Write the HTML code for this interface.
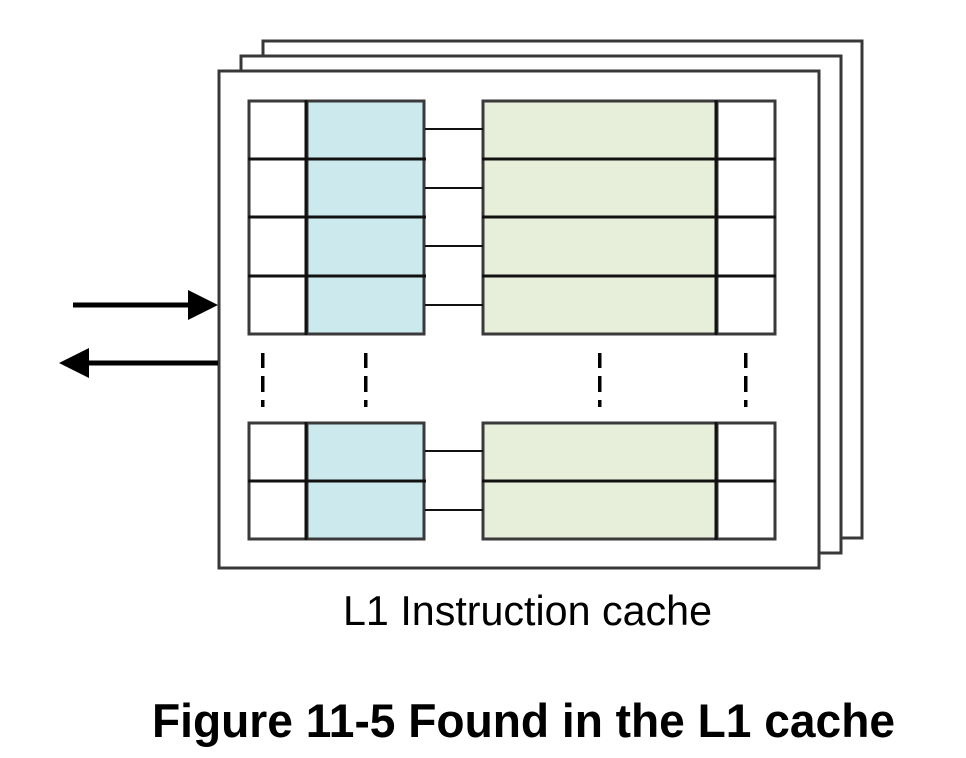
<!DOCTYPE html>
<html><head><meta charset="utf-8"><style>
html,body{margin:0;padding:0;background:#fff;}
svg{display:block;}
</style></head><body>
<svg width="966" height="758" viewBox="0 0 966 758" xmlns="http://www.w3.org/2000/svg">
<g fill="#fff" stroke="#383838" stroke-width="3">
<rect x="263" y="41" width="599" height="497"/>
<rect x="241" y="56" width="600" height="497"/>
<rect x="219" y="71" width="600" height="497"/>
</g>
<g stroke="#3a3a3a" stroke-width="3">
<rect x="249" y="101" width="57" height="233" fill="#fff"/>
<rect x="307" y="101" width="117" height="233" fill="#cce9ee"/>
<rect x="483" y="101" width="233" height="233" fill="#e7efdb"/>
<rect x="717" y="101" width="58" height="233" fill="#fff"/>
<rect x="249" y="423" width="57" height="116" fill="#fff"/>
<rect x="307" y="423" width="117" height="116" fill="#cce9ee"/>
<rect x="483" y="423" width="233" height="116" fill="#e7efdb"/>
<rect x="717" y="423" width="58" height="116" fill="#fff"/>
</g>
<g stroke="#111" stroke-width="3">
<line x1="248" y1="159" x2="426" y2="159"/><line x1="482" y1="159" x2="776" y2="159"/>
<line x1="248" y1="217" x2="426" y2="217"/><line x1="482" y1="217" x2="776" y2="217"/>
<line x1="248" y1="276" x2="426" y2="276"/><line x1="482" y1="276" x2="776" y2="276"/>
<line x1="248" y1="481" x2="426" y2="481"/><line x1="482" y1="481" x2="776" y2="481"/>
<line x1="306" y1="100" x2="306" y2="335"/><line x1="716" y1="100" x2="716" y2="335"/>
<line x1="306" y1="422" x2="306" y2="540"/><line x1="716" y1="422" x2="716" y2="540"/>
</g>
<g stroke="#111" stroke-width="2">
<line x1="425" y1="129" x2="483" y2="129"/>
<line x1="425" y1="188" x2="483" y2="188"/>
<line x1="425" y1="246" x2="483" y2="246"/>
<line x1="425" y1="305" x2="483" y2="305"/>
<line x1="425" y1="451" x2="483" y2="451"/>
<line x1="425" y1="510" x2="483" y2="510"/>
</g>
<g fill="#000">
<rect x="261" y="353" width="3.5" height="15"/><rect x="261" y="376" width="3.5" height="16"/><rect x="261" y="400" width="3.5" height="7"/>
<rect x="364" y="353" width="3.5" height="15"/><rect x="364" y="376" width="3.5" height="16"/><rect x="364" y="400" width="3.5" height="7"/>
<rect x="598" y="353" width="3.5" height="15"/><rect x="598" y="376" width="3.5" height="16"/><rect x="598" y="400" width="3.5" height="7"/>
<rect x="744" y="353" width="3.5" height="15"/><rect x="744" y="376" width="3.5" height="16"/><rect x="744" y="400" width="3.5" height="7"/>
</g>
<line x1="73" y1="305" x2="190" y2="305" stroke="#000" stroke-width="5"/>
<polygon points="188,290 218,305 188,320" fill="#000"/>
<line x1="218" y1="363" x2="88" y2="363" stroke="#000" stroke-width="5"/>
<polygon points="89,348 59,363 89,378" fill="#000"/>
<text x="343" y="625" font-family="Liberation Sans, sans-serif" font-size="42" textLength="369" lengthAdjust="spacingAndGlyphs" fill="#000">L1 Instruction cache</text>
<text x="152" y="737" font-family="Liberation Sans, sans-serif" font-size="47" font-weight="bold" textLength="743" lengthAdjust="spacingAndGlyphs" fill="#000">Figure 11-5 Found in the L1 cache</text>
</svg>
</body></html>
